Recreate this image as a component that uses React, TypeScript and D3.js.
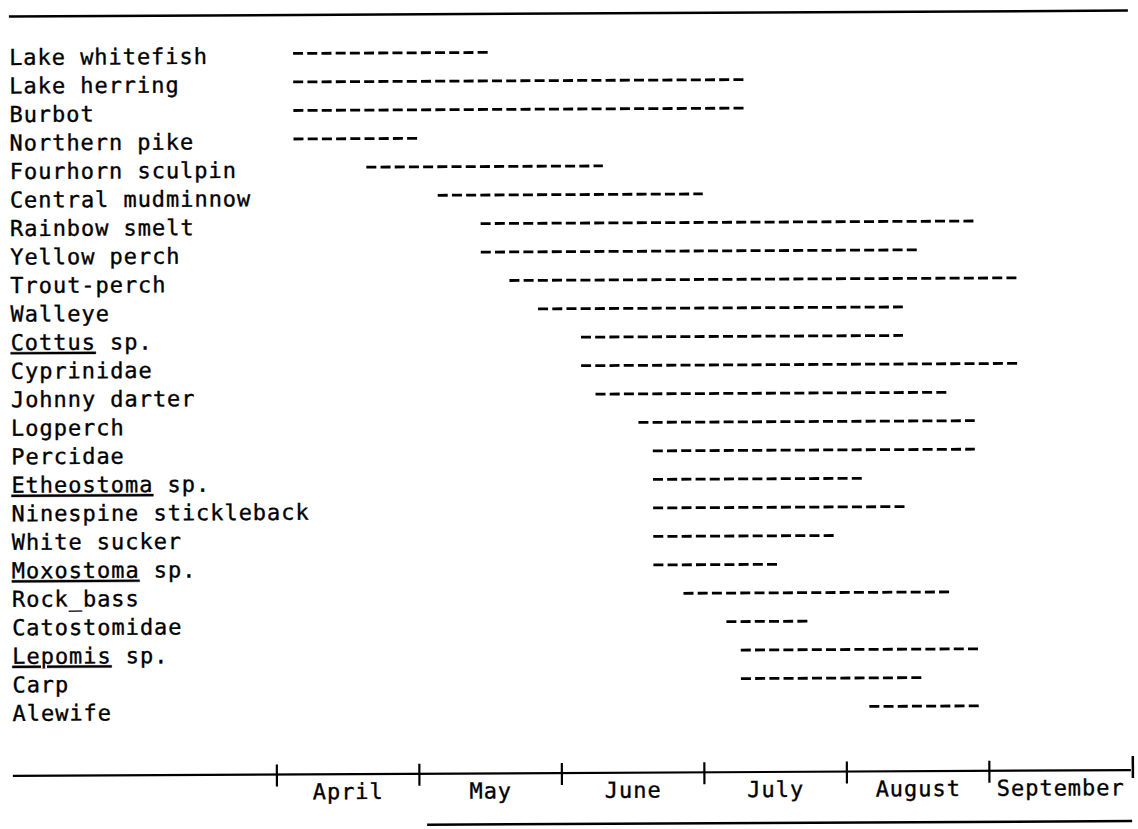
import React from "react";
import * as d3 from "d3";

// Taxa listed top to bottom
const species = [
  "Lake whitefish",
  "Lake herring",
  "Burbot",
  "Northern pike",
  "Fourhorn sculpin",
  "Central mudminnow",
  "Rainbow smelt",
  "Yellow perch",
  "Trout-perch",
  "Walleye",
  "Cottus sp.",
  "Cyprinidae",
  "Johnny darter",
  "Logperch",
  "Percidae",
  "Etheostoma sp.",
  "Ninespine stickleback",
  "White sucker",
  "Moxostoma sp.",
  "Rock_bass",
  "Catostomidae",
  "Lepomis sp.",
  "Carp",
  "Alewife",
];

// Occurrence period, in months after 1 April
const startMonth = [
  0.14, 0.14, 0.14, 0.14, 0.65, 1.15, 1.45, 1.45, 1.65, 1.85, 2.15, 2.15,
  2.25, 2.55, 2.65, 2.65, 2.65, 2.65, 2.65, 2.86, 3.16, 3.26, 3.26, 4.16,
];
const endMonth = [
  1.51, 3.31, 3.31, 1.01, 2.31, 3.01, 4.91, 4.51, 5.22, 4.41, 4.41, 5.23,
  4.72, 4.91, 4.91, 4.12, 4.42, 3.92, 3.52, 4.73, 3.73, 4.93, 4.53, 4.93,
];

const months = ["April", "May", "June", "July", "August", "September"];

const W = 1138;
const H = 829;
const FONT = "'DejaVu Sans Mono', 'Liberation Mono', monospace";

export default function App() {
  const x = d3.scaleLinear().domain([0, months.length]).range([275, 1130]);
  const y = d3.scalePoint<string>().domain(species).range([52, 708]);
  const axisY = 773;

  const textStyle = {
    fontFamily: FONT,
    fontSize: 22,
    letterSpacing: "0.95px",
    fill: "#000",
    stroke: "#000",
    strokeWidth: 0.35,
  } as React.CSSProperties;

  const renderLabel = (name: string) => {
    if (name.endsWith(" sp.")) {
      const genus = name.slice(0, name.length - 4);
      return (
        <>
          <tspan textDecoration="underline">{genus}</tspan>
          <tspan>{" sp."}</tspan>
        </>
      );
    }
    return name;
  };

  return (
    <svg
      width={W}
      height={H}
      style={{ position: "absolute", left: 0, top: 0, background: "#fff" }}
    >
      <rect x={0} y={0} width={W} height={H} fill="#fff" />
      <g transform={`rotate(-0.3, ${W / 2}, ${H / 2})`}>
        {/* top rule */}
        <line x1={11} x2={1130} y1={13.5} y2={13.5} stroke="#000" strokeWidth={2.5} />

        {/* labels */}
        {species.map((s) => (
          <text key={s} x={11} y={(y(s) as number) + 10} style={textStyle}>
            {renderLabel(s)}
          </text>
        ))}

        {/* dashed occurrence lines */}
        {species.map((s, i) => (
          <line
            key={"d" + s}
            x1={x(startMonth[i])}
            x2={x(endMonth[i])}
            y1={y(s) as number}
            y2={y(s) as number}
            stroke="#000"
            strokeWidth={2.8}
            strokeDasharray="10 4.2"
          />
        ))}

        {/* month axis */}
        <line x1={11} x2={x(months.length) - 1} y1={axisY} y2={axisY} stroke="#000" strokeWidth={2.2} />
        {months.map((m, i) => (
          <line
            key={"t" + m}
            x1={x(i)}
            x2={x(i)}
            y1={axisY - 10}
            y2={axisY + 12}
            stroke="#000"
            strokeWidth={2.2}
          />
        ))}
        <line
          x1={x(months.length) + 1}
          x2={x(months.length) + 1}
          y1={axisY - 14}
          y2={axisY + 8}
          stroke="#000"
          strokeWidth={2.5}
        />
        {months.map((m, i) => (
          <text
            key={"m" + m}
            x={x(i + 0.5)}
            y={axisY + 25}
            textAnchor="middle"
            style={textStyle}
          >
            {m}
          </text>
        ))}

        {/* bottom rule */}
        <line x1={425} x2={1130} y1={824} y2={824} stroke="#000" strokeWidth={2.5} />
      </g>
    </svg>
  );
}
